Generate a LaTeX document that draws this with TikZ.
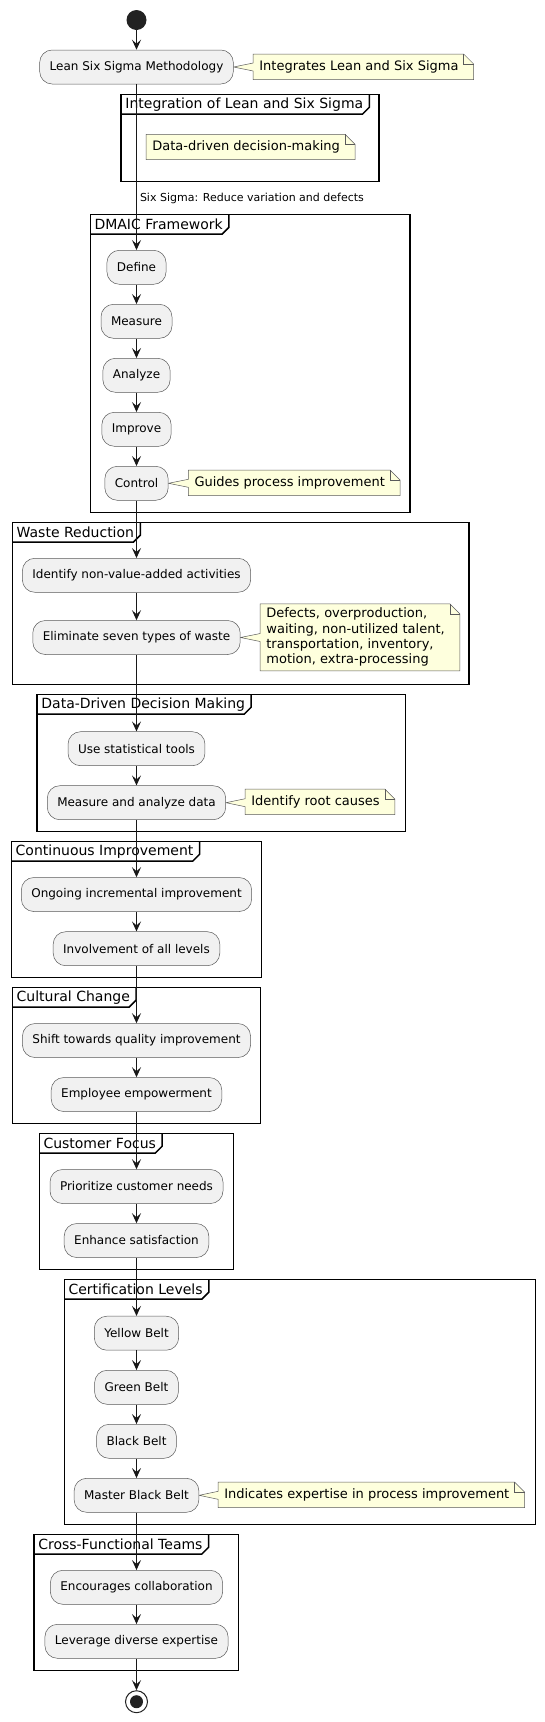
\documentclass[tikz,border=0pt]{standalone}
\usepackage{fontspec}
\setmainfont{DejaVu Sans}
\usetikzlibrary{arrows.meta, backgrounds, calc}

\definecolor{ink}{HTML}{181818}
\definecolor{edge}{HTML}{5A5A5A}
\definecolor{actfill}{HTML}{F1F1F1}
\definecolor{notefill}{HTML}{FEFFDD}
\definecolor{dot}{HTML}{222222}

\tikzset{
    activity/.style = {rounded corners=12.5pt, draw=edge, line width=0.5pt, fill=actfill, minimum height=34pt, inner xsep=10pt, font=\fontsize{12}{14}\selectfont},
    notetext/.style = {anchor=west, align=left, inner xsep=6pt, inner ysep=4pt, minimum height=25pt, font=\fontsize{13}{15.3}\selectfont},
    noteline/.style = {draw=edge, line width=0.5pt, fill=notefill},
    grpline/.style = {draw=black, line width=1.5pt},
    grptitle/.style = {anchor=north west, inner xsep=4pt, inner ysep=0pt, minimum height=19.5pt, font=\fontsize{14}{16}\selectfont},
    flow/.style = {draw=ink, line width=1pt, -{Stealth[length=10pt, width=9pt, inset=4pt]}},
    flowlabel/.style = {font=\fontsize{11}{13}\selectfont, inner xsep=3pt},
}

% frame with a title tab: name, x1, y1, x2, y2, title
\newcommand\grpframe[6]{%
    \draw[grpline] (#2,#3) rectangle (#4,#5);
    \node[grptitle] (#1) at (#2,#3) {#6};
    \draw[grpline] (#1.south west) -- ([xshift=-5pt]#1.south east) -- ([xshift=2pt, yshift=7pt]#1.south east) -- ([xshift=2pt]#1.north east);
}
% note paper behind node #1
\newcommand\notebox[1]{%
    \begin{scope}[on background layer]
        \draw[noteline] (#1.north west) -- ([xshift=-1pt]#1.north east) -- ([xshift=9pt, yshift=-10pt]#1.north east) -- ([xshift=9pt]#1.south east) -- (#1.south west) -- cycle;
        \draw[noteline, fill=none] ([xshift=-1pt]#1.north east) |- ([xshift=9pt, yshift=-10pt]#1.north east);
    \end{scope}
}
% note paper behind node #1, pointing at activity #2
\newcommand\notecall[2]{%
    \begin{scope}[on background layer]
        \draw[noteline] (#1.north west) -- ([xshift=-1pt]#1.north east) -- ([xshift=9pt, yshift=-10pt]#1.north east) -- ([xshift=9pt]#1.south east) -- (#1.south west) -- ($(#1.west |- #2.east)+(0,4)$) -- (#2.east) -- ($(#1.west |- #2.east)+(0,-4)$) -- cycle;
        \draw[noteline, fill=none] ([xshift=-1pt]#1.north east) |- ([xshift=9pt, yshift=-10pt]#1.north east);
    \end{scope}
}

\begin{document}
\begin{tikzpicture}[x=1pt, y=-1pt]
    \useasboundingbox (0,0) rectangle (545,1722);

    % frames
    \grpframe{fInteg}{121.2}{94.3}{379}{181.7}{Integration of Lean and Six Sigma}
    \grpframe{fDmaic}{90.3}{214.3}{410.2}{512.3}{DMAIC Framework}
    \grpframe{fWaste}{12.5}{522.3}{469.2}{684.7}{Waste Reduction}
    \grpframe{fData}{37.2}{694.3}{405.3}{831.7}{Data-Driven Decision Making}
    \grpframe{fCont}{11.5}{841.3}{261.5}{977.3}{Continuous Improvement}
    \grpframe{fCult}{12.5}{987.3}{260.5}{1123.3}{Cultural Change}
    \grpframe{fCust}{39.3}{1133.3}{233.4}{1269.3}{Customer Focus}
    \grpframe{fCert}{64.3}{1279.3}{535.3}{1524.7}{Certification Levels}
    \grpframe{fTeam}{34.1}{1534.3}{238.6}{1670.3}{Cross-Functional Teams}

    % activities
    \node [circle, fill=dot, minimum size=20pt, inner sep=0pt] (start) at (136.5, 20) {};
    \node [activity] (lean) at (136.5, 67) {Lean Six Sigma Methodology};
    \node [activity] (define) at (136.5, 267.3) {Define};
    \node [activity] (measure) at (136.5, 321.3) {Measure};
    \node [activity] (analyze) at (136.5, 375.3) {Analyze};
    \node [activity] (improve) at (136.5, 429.3) {Improve};
    \node [activity] (control) at (136.5, 483.3) {Control};
    \node [activity] (identify) at (136.5, 575.3) {Identify non-value-added activities};
    \node [activity] (eliminate) at (136.5, 637.5) {Eliminate seven types of waste};
    \node [activity] (tools) at (136.5, 748.7) {Use statistical tools};
    \node [activity] (analyzeData) at (136.5, 802.7) {Measure and analyze data};
    \node [activity] (ongoing) at (136.5, 894.5) {Ongoing incremental improvement};
    \node [activity] (levels) at (136.5, 948.7) {Involvement of all levels};
    \node [activity] (shift) at (136.5, 1040.5) {Shift towards quality improvement};
    \node [activity] (empower) at (136.5, 1094.5) {Employee empowerment};
    \node [activity] (needs) at (136.5, 1186.5) {Prioritize customer needs};
    \node [activity] (satisfy) at (136.5, 1240.5) {Enhance satisfaction};
    \node [activity] (yellow) at (136.5, 1333.2) {Yellow Belt};
    \node [activity] (green) at (136.5, 1387.3) {Green Belt};
    \node [activity] (black) at (136.5, 1441.3) {Black Belt};
    \node [activity] (master) at (136.5, 1495.3) {Master Black Belt};
    \node [activity] (collab) at (136.5, 1587.3) {Encourages collaboration};
    \node [activity] (leverage) at (136.5, 1641.3) {Leverage diverse expertise};
    \node [circle, draw=dot, line width=1pt, fill=white, minimum size=22pt, inner sep=0pt] (stop) at (136.5, 1701.7) {};
    \fill [dot] (stop.center) circle (6.5pt);

    % notes
    \node [notetext] (nLean) at (253.2, 66.8) {Integrates Lean and Six Sigma};
    \notecall{nLean}{lean}
    \node [notetext] (nData) at (146.2, 147) {Data-driven decision-making};
    \notebox{nData}
    \node [notetext] (nControl) at (188.3, 482.8) {Guides process improvement};
    \notecall{nControl}{control}
    \node [notetext] (nWaste) at (260.2, 637.3) {Defects, overproduction,\\waiting, non-utilized talent,\\transportation, inventory,\\motion, extra-processing};
    \notecall{nWaste}{eliminate}
    \node [notetext] (nRoot) at (245.2, 801.8) {Identify root causes};
    \notecall{nRoot}{analyzeData}
    \node [notetext] (nMaster) at (218.1, 1494.8) {Indicates expertise in process improvement};
    \notecall{nMaster}{master}

    % flow
    \draw [flow] (lean) -- (define) node [flowlabel, pos=0.69, right] {Six Sigma: Reduce variation and defects};
    \foreach \a/\b in {start/lean, define/measure, measure/analyze, analyze/improve, improve/control, control/identify, identify/eliminate, eliminate/tools, tools/analyzeData, analyzeData/ongoing, ongoing/levels, levels/shift, shift/empower, empower/needs, needs/satisfy, satisfy/yellow, yellow/green, green/black, black/master, master/collab, collab/leverage, leverage/stop}
        \draw [flow] (\a) -- (\b);
\end{tikzpicture}
\end{document}
